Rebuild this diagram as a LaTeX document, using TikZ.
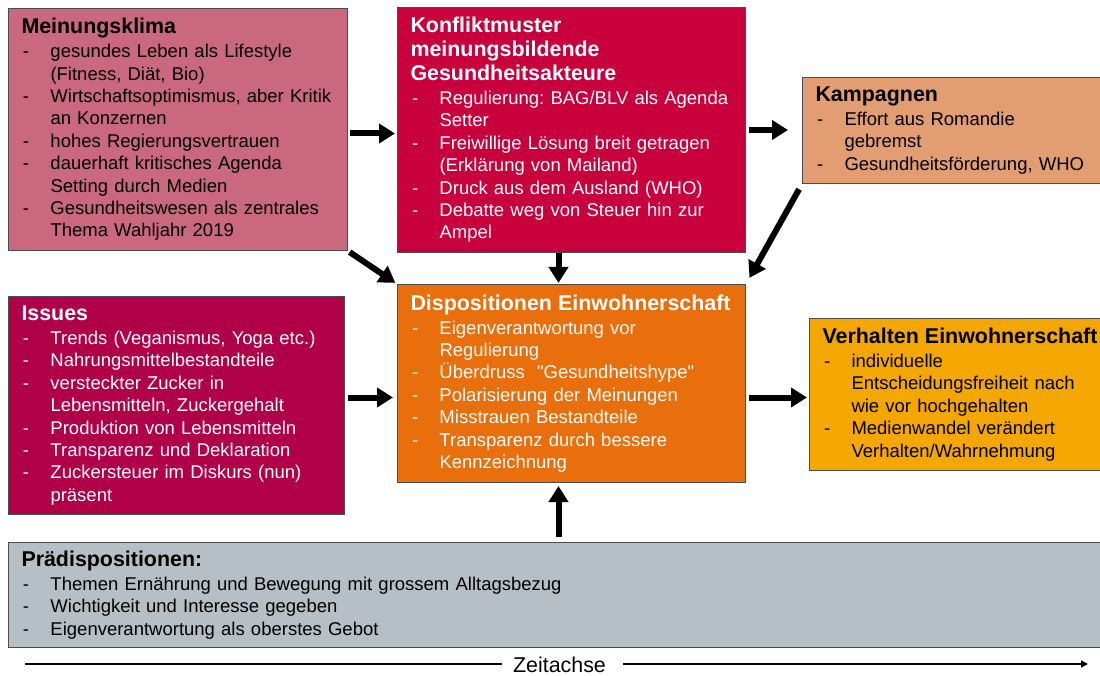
\documentclass[tikz,border=0pt]{standalone}
\usepackage{fontspec}
\setmainfont{Liberation Sans}
\usetikzlibrary{arrows.meta}

\definecolor{klimarosa}{RGB}{201,104,126}
\definecolor{konfliktrot}{RGB}{200,0,60}
\definecolor{kampagnenlachs}{RGB}{227,157,114}
\definecolor{issuesrot}{RGB}{175,0,72}
\definecolor{dispoorange}{RGB}{233,110,12}
\definecolor{verhaltengelb}{RGB}{244,167,0}
\definecolor{praegrau}{RGB}{182,191,197}

\newcommand{\titel}[1]{{\fontsize{21.4}{24}\selectfont\bfseries #1\par}\vspace{1.5pt}}
\newcommand{\punkt}[1]{\noindent\mbox{\makebox[29pt][l]{\hspace{1.5pt}-}#1}}
\newcommand{\weiter}[1]{\mbox{\hspace*{29pt}#1}}

\begin{document}
\begin{tikzpicture}[x=1pt, y=-1pt,
        infobox/.style = {rectangle, draw=black!70, line width=1pt, anchor=north west, align=left,
                inner xsep=13pt, inner ysep=0pt, font=\fontsize{18.5}{22.4}\selectfont\frenchspacing},
        flowarrow/.style = {line width=6pt, -{Triangle[width=19pt,length=16pt]}}
        ]
        \useasboundingbox (0,0) rectangle (1100,676);

        \node[infobox, fill=klimarosa, text width=313pt, minimum height=242pt] (klima) at (8,8) {%
                \titel{Meinungsklima}
                \punkt{gesundes Leben als Lifestyle}\\
                \weiter{(Fitness, Diät, Bio)}\\
                \punkt{Wirtschaftsoptimismus, aber Kritik}\\
                \weiter{an Konzernen}\\
                \punkt{hohes Regierungsvertrauen}\\
                \punkt{dauerhaft kritisches Agenda}\\
                \weiter{Setting durch Medien}\\
                \punkt{Gesundheitswesen als zentrales}\\
                \weiter{Thema Wahljahr 2019}};
        \node[infobox, fill=konfliktrot, text=white, text width=322pt, minimum height=245pt] (konflikt) at (397,7) {%
                \titel{Konfliktmuster\\meinungsbildende\\Gesundheitsakteure}
                \punkt{Regulierung: BAG/BLV als Agenda}\\
                \weiter{Setter}\\
                \punkt{Freiwillige Lösung breit getragen}\\
                \weiter{(Erklärung von Mailand)}\\
                \punkt{Druck aus dem Ausland (WHO)}\\
                \punkt{Debatte weg von Steuer hin zur}\\
                \weiter{Ampel}};
        \node[infobox, fill=kampagnenlachs, text width=274pt, minimum height=106pt] (kampagnen) at (802,77) {%
                \titel{Kampagnen}
                \punkt{Effort aus Romandie}\\
                \weiter{gebremst}\\
                \punkt{Gesundheitsförderung, WHO}};
        \node[infobox, fill=issuesrot, text=white, text width=310pt, minimum height=218pt] (issues) at (8,296) {%
                \titel{Issues}
                \punkt{Trends (Veganismus, Yoga etc.)}\\
                \punkt{Nahrungsmittelbestandteile}\\
                \punkt{versteckter Zucker in}\\
                \weiter{Lebensmitteln, Zuckergehalt}\\
                \punkt{Produktion von Lebensmitteln}\\
                \punkt{Transparenz und Deklaration}\\
                \punkt{Zuckersteuer im Diskurs (nun)}\\
                \weiter{präsent}};
        \node[infobox, fill=dispoorange, text=white, text width=322pt, minimum height=198pt] (dispo) at (397,284) {%
                \titel{Dispositionen Einwohnerschaft}
                \punkt{Eigenverantwortung vor}\\
                \weiter{Regulierung}\\
                \punkt{Überdruss~\ \textquotedbl Gesundheitshype\textquotedbl}\\
                \punkt{Polarisierung der Meinungen}\\
                \punkt{Misstrauen Bestandteile}\\
                \punkt{Transparenz durch bessere}\\
                \weiter{Kennzeichnung}};
        \node[infobox, fill=verhaltengelb, text width=267pt, minimum height=152pt] (verhalten) at (809,318) {%
                \titel{\mbox{Verhalten Einwohnerschaft}}
                \punkt{individuelle}\\
                \weiter{Entscheidungsfreiheit nach}\\
                \weiter{wie vor hochgehalten}\\
                \punkt{Medienwandel verändert}\\
                \weiter{Verhalten/Wahrnehmung}};
        \node[infobox, fill=praegrau, text width=1068pt, minimum height=105pt] (praedispo) at (8,542) {%
                \titel{Prädispositionen:}
                \punkt{Themen Ernährung und Bewegung mit grossem Alltagsbezug}\\
                \punkt{Wichtigkeit und Interesse gegeben}\\
                \punkt{Eigenverantwortung als oberstes Gebot}};

        \draw[flowarrow, shorten <=2pt, shorten >=2pt] ([yshift=-4pt]klima.east) -- ([yshift=-4pt]klima.east -| konflikt.west);
        \draw[flowarrow, shorten <=2pt, shorten >=2pt] (klima.south east) -- (dispo.north west);
        \draw[flowarrow, shorten <=3pt, shorten >=14pt] (konflikt.east) -- (konflikt.east -| kampagnen.west);
        \draw[flowarrow, shorten >=1pt] ([xshift=-13pt]konflikt.south) -- ([xshift=-13pt]dispo.north);
        \draw[flowarrow, shorten <=6pt, shorten >=7pt] (kampagnen.south west) -- (dispo.north east);
        \draw[flowarrow, shorten <=3pt, shorten >=4pt] ([yshift=8pt]issues.east) -- ([yshift=8pt]issues.east -| dispo.west);
        \draw[flowarrow, shorten <=3pt, shorten >=2pt] ([yshift=-14pt]dispo.east) -- ([yshift=-14pt]dispo.east -| verhalten.west);
        \draw[flowarrow, shorten <=5pt, shorten >=3pt] ([xshift=-13pt]dispo.south |- praedispo.north) -- ([xshift=-13pt]dispo.south);

        \node[font=\fontsize{21.4}{24}\selectfont, inner xsep=11pt] (zeit) at (559.5,665) {Zeitachse};
        \coordinate (zeitanfang) at (25,664);
        \coordinate (zeitende) at (1088,664);
        \draw[line width=1.6pt] (zeitanfang) -- (zeitanfang -| zeit.west);
        \draw[line width=1.6pt, shorten <=6pt, -{Triangle[width=7pt,length=7pt]}] (zeitende -| zeit.east) -- (zeitende);
\end{tikzpicture}
\end{document}
